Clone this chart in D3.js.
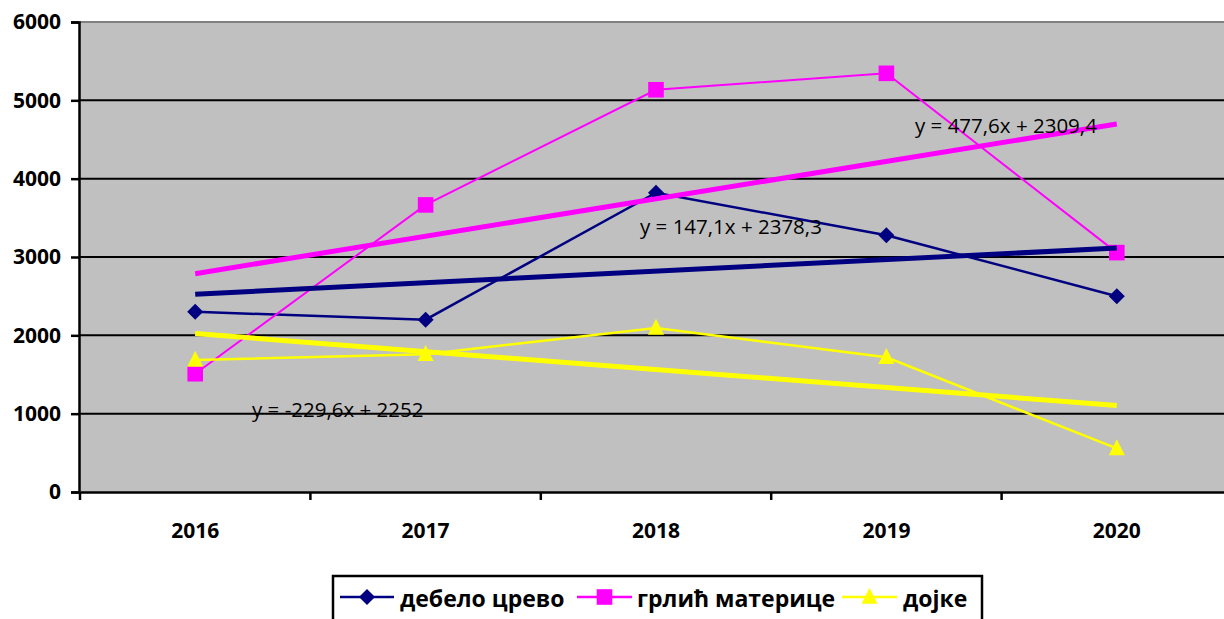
<!DOCTYPE html>
<html><head><meta charset="utf-8">
<script src="https://cdn.jsdelivr.net/npm/d3@7"></script>
<style>body{margin:0;background:#fff;}svg{display:block;font-family:"Open Sans",sans-serif;}</style>
</head><body><svg id="c" width="1224" height="619"></svg>
<script>
const years = ["2016","2017","2018","2019","2020"];
const seriesNames = ["дебело црево","грлић материце","дојке"];
const colon = [2300,2200,3820,3278,2500];
const cervix = [1510,3665,5135,5345,3056];
const breast = [1685,1760,2095,1720,556];
const trendSlopes = [147.1,477.6,-229.6];
const trendIntercepts = [2378.3,2309.4,2252];
const trendLabels = ["y = 147,1x + 2378,3","y = 477,6x + 2309,4","y = -229,6x + 2252"];
const yTicks = [0,1000,2000,3000,4000,5000,6000];
const colors = ["#000080","#FF00FF","#FFFF00"];
const markers = ["diamond","square","triangle"];
const seriesValues = [colon,cervix,breast];

const svg = d3.select("#c");
const L=80, T=22, B=492, R=80+5*230.4;
const x = d3.scaleBand().domain(years).range([L,R]);
const y = d3.scaleLinear().domain([0,6000]).range([B,T]);
const cx = d => x(d)+x.bandwidth()/2;

svg.append("rect").attr("x",L).attr("y",T).attr("width",R-L).attr("height",B-T).attr("fill","#C0C0C0");
svg.append("line").attr("x1",L).attr("x2",R).attr("y1",T).attr("y2",T).attr("stroke","#808080").attr("stroke-width",2);
svg.append("g").selectAll("line").data(yTicks.filter(v=>v>0&&v<6000)).join("line")
  .attr("x1",L).attr("x2",R).attr("y1",d=>y(d)).attr("y2",d=>y(d)).attr("stroke","#000").attr("stroke-width",2);

// y axis
const ya = svg.append("g").attr("transform",`translate(${L-1},0)`)
  .call(d3.axisLeft(y).tickValues(yTicks).tickSize(8).tickFormat(d3.format("d")));
ya.select(".domain").attr("stroke","#000").attr("stroke-width",2.5);
ya.selectAll(".tick line").attr("stroke","#000").attr("stroke-width",2.5);
ya.selectAll(".tick text").attr("font-size",21).attr("font-weight","bold").attr("font-family","Open Sans").attr("fill","#000").attr("x",-18).attr("dy","0.33em");

// x axis
const xa = svg.append("g").attr("transform",`translate(0,${B})`)
  .call(d3.axisBottom(x).tickSize(0).tickSizeOuter(0));
xa.select(".domain").attr("stroke","#000").attr("stroke-width",2.5);
xa.selectAll(".tick text").attr("font-size",21).attr("font-weight","bold").attr("font-family","Open Sans").attr("fill","#000").attr("dy",0).attr("y",46);
svg.append("g").selectAll("line").data(years).join("line")
  .attr("x1",d=>x(d)).attr("x2",d=>x(d)).attr("y1",B).attr("y2",B+8).attr("stroke","#000").attr("stroke-width",2.5);

function diamondPath(s){return `M0,${-s}L${s},0L0,${s}L${-s},0Z`;}
function trianglePath(s){return `M0,${-s*1.15}L${s},${s*0.85}L${-s},${s*0.85}Z`;}
function squarePath(s){return `M${-s},${-s}H${s}V${s}H${-s}Z`;}
function mk(g,type,color){
  const d = type==="diamond"?diamondPath(8):type==="square"?squarePath(7.8):trianglePath(8);
  return g.append("path").attr("d",d).attr("fill",color);
}

const line = d3.line().x((d,i)=>cx(years[i])).y(d=>y(d));
seriesValues.forEach((vals,s)=>{
  svg.append("path").datum(vals).attr("d",line).attr("fill","none").attr("stroke",colors[s]).attr("stroke-width",s===1?2:2.5);
});
seriesValues.forEach((vals,s)=>{
  const g=svg.append("g");
  vals.forEach((v,i)=>{ mk(g.append("g").attr("transform",`translate(${cx(years[i])},${y(v)})`),markers[s],colors[s]); });
});
// trendlines
trendSlopes.forEach((m,s)=>{
  const first = m*1+trendIntercepts[s], last = m*years.length+trendIntercepts[s];
  svg.append("line").attr("x1",cx(years[0])).attr("x2",cx(years[years.length-1]))
    .attr("y1",y(first)).attr("y2",y(last)).attr("stroke",colors[s]).attr("stroke-width",5);
});
// trend labels
const labelPos=[[640,234],[915,133],[252,417]];
trendLabels.forEach((t,s)=>{
  svg.append("text").attr("x",labelPos[s][0]).attr("y",labelPos[s][1]).attr("font-size",20.5).attr("fill","#000").text(t);
});

// legend
const lg = svg.append("g");
lg.append("rect").attr("x",333).attr("y",576).attr("width",649).attr("height",55).attr("fill","#fff").attr("stroke","#000").attr("stroke-width",2.5);
const legX=[[340,394,400],[577,632,637],[842,897,903]];
seriesNames.forEach((n,s)=>{
  const yy=597;
  lg.append("line").attr("x1",legX[s][0]).attr("x2",legX[s][1]).attr("y1",yy).attr("y2",yy).attr("stroke",colors[s]).attr("stroke-width",2.5);
  mk(lg.append("g").attr("transform",`translate(${(legX[s][0]+legX[s][1])/2},${yy})`),markers[s],colors[s]);
  lg.append("text").attr("x",legX[s][2]).attr("y",yy+10).attr("font-size",23).attr("font-weight","bold").attr("fill","#000").text(n);
});
</script></body></html>
